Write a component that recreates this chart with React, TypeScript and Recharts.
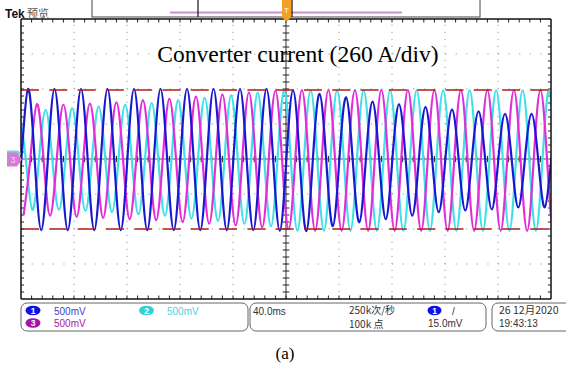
import React from 'react';
import { LineChart, Line, XAxis, YAxis, ReferenceLine } from 'recharts';

// ---- data (time in ms, amplitude in divisions of 260 A) ----
const timeDomainMs = [0, 400];
const ampDomainDiv = [-4, 4];
const halfPeriodMs = 10;

// alternating extremum values (trough / peak), one every 10 ms
const blueFirstExtremumMs = -4.7;
const blueExtrema = [
  -2.02, 2.0, -2.03, 2.0, -2.03, 2.0, -2.03, 2.0, -2.03, 2.0,
  -2.03, 2.0, -2.03, 2.0, -2.03, 2.0, -2.03, 2.0, -2.03, 2.0,
  -2.05, 1.96, -2.06, 1.86, -1.92, 1.76, -1.81, 1.64, -1.72, 1.56,
  -1.62, 1.48, -1.52, 1.41, -1.47, 1.36, -1.44, 1.29, -1.38, 1.29,
  -1.38, 1.3,
];

const magentaFirstExtremumMs = 2;
const magentaExtrema = [
  -1.6, 1.57, -1.62, 1.55, -1.65, 1.58, -1.68, 1.62, -1.72, 1.68,
  -1.75, 1.72, -1.8, 1.78, -1.85, 1.84, -1.9, 1.9, -1.95, 1.95,
  -2.0, 1.97, -2.05, 1.97, -2.05, 1.97, -2.05, 1.97, -2.05, 1.97,
  -2.05, 1.97, -2.05, 1.97, -2.05, 1.97, -2.05, 1.97, -2.05, 1.97,
  -2.05, 1.97,
];

const cyanFirstExtremumMs = -1.4;
const cyanExtrema = [
  1.35, -1.45, 1.4, -1.45, 1.45, -1.48, 1.5, -1.52, 1.55, -1.58,
  1.6, -1.62, 1.68, -1.7, 1.75, -1.77, 1.82, -1.85, 1.9, -1.92,
  1.96, -2.05, 1.96, -2.05, 1.96, -2.05, 1.96, -2.05, 1.96, -2.05,
  1.96, -2.05, 1.96, -2.05, 1.96, -2.05, 1.96, -2.05, 1.96, -2.05,
  1.96, -2.05,
];

const cursorLevelsDiv = [1.97, -2.0];
const majorTimeTicks = [40, 80, 120, 160, 240, 280, 320, 360];
const majorAmpTicks = [-3, -2, -1, 1, 2, 3];

const channelLabels = ['500mV', '500mV', '500mV'];
const infoTexts = ['40.0ms', '250k次/秒', '100k 点', '15.0mV'];
const dateTexts = ['26 12月2020', '19:43:13'];

type Pt = { t: number; v: number };

function buildWave(t0: number, extrema: number[]): Pt[] {
  const pts: Pt[] = [];
  extrema.forEach((v, j) => {
    const t = t0 + j * halfPeriodMs;
    pts.push({ t, v });
    if (j < extrema.length - 1) pts.push({ t: t + halfPeriodMs / 2, v: 0 });
  });
  return pts;
}

const blueWave = buildWave(blueFirstExtremumMs, blueExtrema);
const magentaWave = buildWave(magentaFirstExtremumMs, magentaExtrema);
const cyanWave = buildWave(cyanFirstExtremumMs, cyanExtrema);

const minorT: number[] = [];
for (let k = 1; k < 50; k++) minorT.push(k * 8);
const minorV: number[] = [];
for (let k = -19; k <= 19; k++) if (k !== 0) minorV.push(k * 0.2);

const W = 566;
const H = 370;
const M = { top: 19, left: 21, right: 15, bottom: 71 };

const tickStroke = '#222';

export default function App() {
  const sans = '"Liberation Sans", Arial, sans-serif';
  const cjk = '"Noto Sans CJK SC", sans-serif';
  return (
    <div style={{ position: 'absolute', left: 0, top: 0, width: W, height: H, background: '#fff' }}>
      <LineChart width={W} height={H} margin={M}>
        <XAxis type="number" dataKey="t" domain={timeDomainMs} allowDataOverflow hide />
        <YAxis type="number" dataKey="v" domain={ampDomainDiv} allowDataOverflow hide />
        {majorTimeTicks.map((t) => (
          <ReferenceLine key={'gx' + t} x={t} stroke="#9a9a9a" strokeDasharray="1.2 5.8" strokeWidth={1} />
        ))}
        {majorAmpTicks.map((v) => (
          <ReferenceLine key={'gy' + v} y={v} stroke="#9a9a9a" strokeDasharray="1.2 9.4" strokeWidth={1} />
        ))}
        <ReferenceLine y={0} stroke="#555" strokeWidth={1.2} />
        <ReferenceLine x={200} stroke="#333" strokeWidth={1} />
        {minorT.map((t) => (
          <ReferenceLine key={'mt' + t} segment={[{ x: t, y: -0.09 }, { x: t, y: 0.09 }]} stroke={tickStroke} strokeWidth={1} />
        ))}
        {minorT.map((t) => (
          <ReferenceLine key={'tt' + t} segment={[{ x: t, y: 4 }, { x: t, y: 3.9 }]} stroke={tickStroke} strokeWidth={1} />
        ))}
        {minorT.map((t) => (
          <ReferenceLine key={'bt' + t} segment={[{ x: t, y: -4 }, { x: t, y: -3.9 }]} stroke={tickStroke} strokeWidth={1} />
        ))}
        {minorV.map((v) => (
          <ReferenceLine key={'mv' + v} segment={[{ x: 197.5, y: v }, { x: 202.5, y: v }]} stroke={tickStroke} strokeWidth={1} />
        ))}
        {minorV.map((v) => (
          <ReferenceLine key={'lv' + v} segment={[{ x: 0, y: v }, { x: 2.3, y: v }]} stroke={tickStroke} strokeWidth={1} />
        ))}
        {minorV.map((v) => (
          <ReferenceLine key={'rv' + v} segment={[{ x: 397.7, y: v }, { x: 400, y: v }]} stroke={tickStroke} strokeWidth={1} />
        ))}
        <Line data={cyanWave} dataKey="v" type="natural" stroke="#3fe0e6" strokeWidth={2.2} dot={false} isAnimationActive={false} />
        <Line data={magentaWave} dataKey="v" type="natural" stroke="#e22ed8" strokeWidth={2.2} dot={false} isAnimationActive={false} />
        <Line data={blueWave} dataKey="v" type="natural" stroke="#1818d0" strokeWidth={2.2} dot={false} isAnimationActive={false} />
        {cursorLevelsDiv.map((v) => (
          <ReferenceLine key={'cur' + v} y={v} stroke="#b01c1c" strokeWidth={1.6} strokeDasharray="18 10.3" />
        ))}
        <ReferenceLine x={0} stroke="#111" strokeWidth={1.5} />
        <ReferenceLine x={400} stroke="#111" strokeWidth={1.5} />
        <ReferenceLine y={4} stroke="#111" strokeWidth={1.5} />
        <ReferenceLine y={-4} stroke="#111" strokeWidth={1.5} />
      </LineChart>
      <svg width={W} height={H} style={{ position: 'absolute', left: 0, top: 0, pointerEvents: 'none' }}>
        {/* header */}
        <text x={5} y={18} fontFamily={sans} fontWeight="bold" fontSize={12} fill="#111">Tek</text>
        <text x={27} y={18} fontFamily={cjk} fontSize={11} fill="#555">预览</text>
        <rect x={92} y={-2} width={388} height={19} fill="#fff" stroke="#444" strokeWidth={1} />
        <line x1={170} x2={402} y1={12.5} y2={12.5} stroke="#cf8bd0" strokeWidth={2} />
        <line x1={198} x2={198} y1={0} y2={17} stroke="#222" strokeWidth={1.3} />
        <line x1={292} x2={292} y1={0} y2={17} stroke="#222" strokeWidth={1.3} />
        <path d="M282,0 L291,0 L291,17 L286.5,22 L282,17 Z" fill="#f4a024" />
        <text x={286.5} y={13} textAnchor="middle" fontFamily={sans} fontSize={8} fill="#fff">T</text>
        {/* title */}
        <text x={298} y={62} textAnchor="middle" fontFamily='"Liberation Serif", "Times New Roman", serif' fontSize={23.5} fill="#000">
          Converter current (260 A/div)
        </text>
        {/* channel ground markers */}
        <path d="M7,150.5 L18,150.5 L21,153.5 L18,156.5 L7,156.5 Z" fill="#74d6e0" />
        <path d="M7,152.5 L17,152.5 L22,159.5 L17,166.5 L7,166.5 Z" fill="#d57ad6" />
        <text x={13} y={163} textAnchor="middle" fontFamily={sans} fontSize={9} fill="#f4d8f4">3</text>
        {/* info panel */}
        <rect x={21} y={303} width={227} height={28} rx={6} fill="#fff" stroke="#666" strokeWidth={1} />
        <rect x={250} y={303} width={236} height={28} rx={6} fill="#fff" stroke="#666" strokeWidth={1} />
        <rect x={492} y={303} width={90} height={28} rx={6} fill="#fff" stroke="#666" strokeWidth={1} />
        <ellipse cx={33} cy={310.5} rx={7.5} ry={4.8} fill="#1212e0" />
        <text x={33} y={313.5} textAnchor="middle" fontFamily={sans} fontWeight="bold" fontSize={8.5} fill="#fff">1</text>
        <text x={54} y={314.5} fontFamily={sans} fontSize={10} fill="#4242d4">{channelLabels[0]}</text>
        <ellipse cx={146.5} cy={310.5} rx={7.5} ry={4.8} fill="#35cfd8" />
        <text x={146.5} y={313.5} textAnchor="middle" fontFamily={sans} fontWeight="bold" fontSize={8.5} fill="#fff">2</text>
        <text x={167} y={314.5} fontFamily={sans} fontSize={10} fill="#45d6dc">{channelLabels[1]}</text>
        <ellipse cx={33} cy={323} rx={7.5} ry={4.8} fill="#a414a8" />
        <text x={33} y={326} textAnchor="middle" fontFamily={sans} fontWeight="bold" fontSize={8.5} fill="#fff">3</text>
        <text x={54} y={327} fontFamily={sans} fontSize={10} fill="#a422a6">{channelLabels[2]}</text>
        <text x={253} y={314.5} fontFamily={sans} fontSize={10} fill="#333">{infoTexts[0]}</text>
        <text x={349} y={313.5} fontFamily={cjk} fontSize={10} fill="#333">{infoTexts[1]}</text>
        <text x={349} y={327.5} fontFamily={cjk} fontSize={10} fill="#333">{infoTexts[2]}</text>
        <ellipse cx={434.5} cy={310.5} rx={7} ry={4.8} fill="#1212e0" />
        <text x={434.5} y={313.5} textAnchor="middle" fontFamily={sans} fontWeight="bold" fontSize={8.5} fill="#fff">1</text>
        <text x={452} y={314.5} fontFamily={sans} fontSize={10} fill="#333">/</text>
        <text x={428} y={327} fontFamily={sans} fontSize={10} fill="#333">{infoTexts[3]}</text>
        <text x={499} y={314} fontFamily={cjk} fontSize={10.5} fill="#333">{dateTexts[0]}</text>
        <text x={499} y={327} fontFamily={sans} fontSize={10} fill="#333">{dateTexts[1]}</text>
        <text x={285} y={359} textAnchor="middle" fontFamily='"Liberation Serif", "Times New Roman", serif' fontSize={17} fill="#000">(a)</text>
      </svg>
    </div>
  );
}
